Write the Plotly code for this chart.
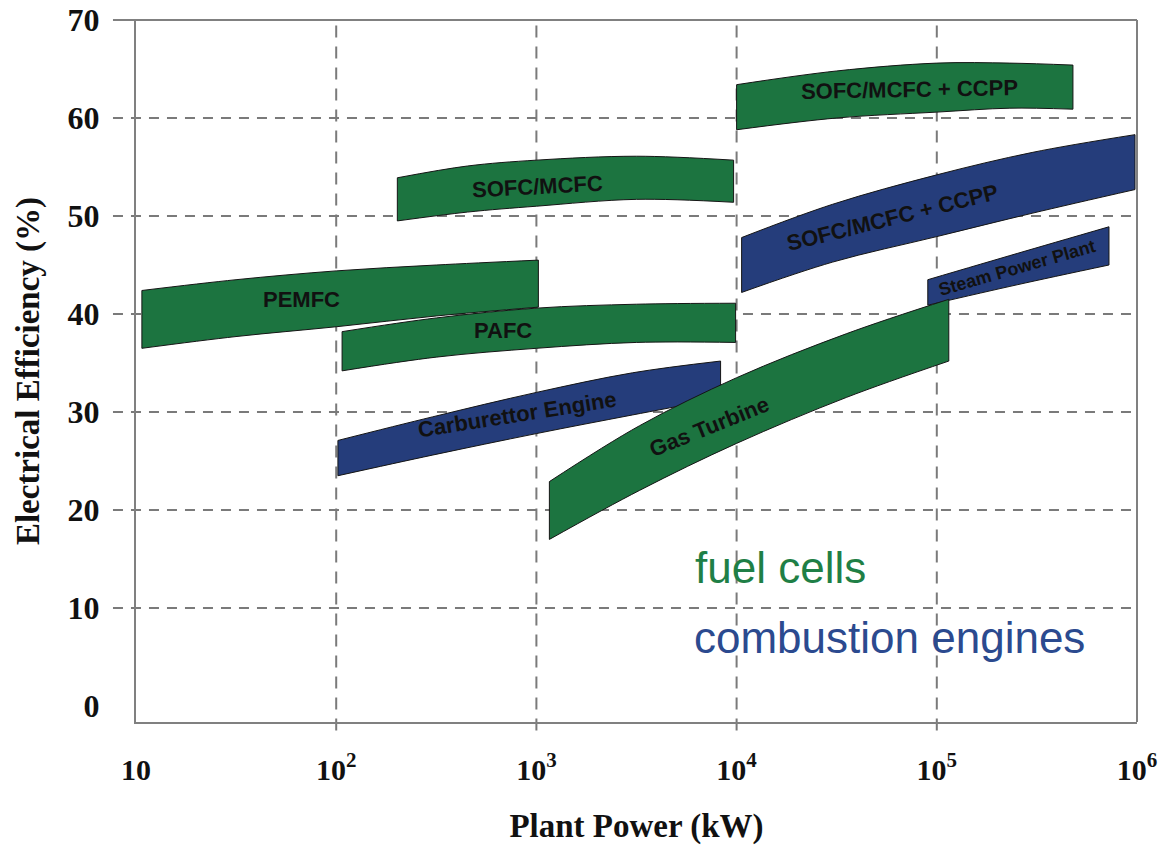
import math
import plotly.graph_objects as go

# ---------------- data ----------------
X_TICKS = [10, 100, 1000, 10000, 100000, 1000000]
X_TICK_TEXT = ["10", "10<sup>2</sup>", "10<sup>3</sup>", "10<sup>4</sup>", "10<sup>5</sup>", "10<sup>6</sup>"]
Y_TICKS = [0, 10, 20, 30, 40, 50, 60, 70]

# each band: plant power (kW) columns, upper and lower efficiency (%) edges
PEMFC_X = [10.7, 31.6, 100, 316, 1023]
PEMFC_TOP = [42.4, 43.5, 44.4, 45.0, 45.5]
PEMFC_BOT = [36.5, 37.7, 38.7, 39.8, 40.7]

PAFC_X = [107, 316, 1000, 3162, 9886]
PAFC_TOP = [38.2, 39.6, 40.6, 41.0, 41.1]
PAFC_BOT = [34.2, 35.6, 36.5, 37.1, 37.1]

SOFC_X = [202, 452, 1000, 3162, 9661]
SOFC_TOP = [53.9, 55.1, 55.7, 56.1, 55.7]
SOFC_BOT = [49.5, 50.4, 51.0, 51.7, 51.4]

HYB_FC_X = [10000, 31623, 100000, 231739, 478630]
HYB_FC_TOP = [63.4, 64.8, 65.6, 65.6, 65.4]
HYB_FC_BOT = [58.8, 60.0, 60.6, 61.0, 60.9]

HYB_CE_X = [10593, 30200, 100000, 301995, 977237]
HYB_CE_TOP = [47.8, 51.2, 54.2, 56.5, 58.3]
HYB_CE_BOT = [42.2, 45.3, 47.9, 50.3, 52.7]

CARB_X = [102, 302, 1000, 3020, 8318]
CARB_TOP = [27.1, 29.5, 32.0, 34.0, 35.2]
CARB_BOT = [23.5, 25.6, 27.8, 29.7, 31.4]

STEAM_X = [90157, 254097, 724436]
STEAM_TOP = [43.5, 46.2, 48.9]
STEAM_BOT = [40.9, 43.0, 45.0]

GT_X = [1161, 3273, 10000, 35481, 114815]
GT_TOP = [22.9, 28.6, 33.5, 38.0, 41.5]
GT_BOT = [17.0, 22.0, 26.8, 31.5, 35.2]

# band labels: text, power (kW), efficiency (%), angle
LABEL_TEXT = ["PEMFC", "PAFC", "SOFC/MCFC", "SOFC/MCFC + CCPP", "SOFC/MCFC + CCPP",
              "Steam Power Plant", "Carburettor Engine", "Gas Turbine"]
LABEL_X = [66.8, 684, 1012, 73282, 60256, 251189, 803, 7328]
LABEL_Y = [41.5, 38.3, 53.0, 62.9, 49.8, 44.7, 29.7, 28.5]
LABEL_ANGLE = [0, 0, -3, -1, -14, -16, -9, -22]
LABEL_SIZE = [22, 22, 22, 22, 22, 18, 22, 22]

LEGEND_TEXT = ["fuel cells", "combustion engines"]
LEGEND_X = [16596, 58210]
LEGEND_Y = [14.1, 7.0]

# ---------------- style ----------------
GREEN = "#1c7440"
BLUE = "#253d7b"
GREEN_TXT = "#1f7f46"
BLUE_TXT = "#2b4a8f"
GRID = "#7a7a7a"
EDGE = "#151515"
Y_MIN, Y_MAX = -1.63, 70
X_MIN, X_MAX = 1, 6

bands = [
    (PEMFC_X, PEMFC_TOP, PEMFC_BOT, GREEN),
    (PAFC_X, PAFC_TOP, PAFC_BOT, GREEN),
    (SOFC_X, SOFC_TOP, SOFC_BOT, GREEN),
    (HYB_FC_X, HYB_FC_TOP, HYB_FC_BOT, GREEN),
    (HYB_CE_X, HYB_CE_TOP, HYB_CE_BOT, BLUE),
    (CARB_X, CARB_TOP, CARB_BOT, BLUE),
    (STEAM_X, STEAM_TOP, STEAM_BOT, BLUE),
    (GT_X, GT_TOP, GT_BOT, GREEN),
]

fig = go.Figure()
for xs, top, bot, col in bands:
    fig.add_trace(go.Scatter(x=xs, y=bot, mode="lines",
                             line=dict(color=EDGE, width=1, shape="spline", smoothing=1),
                             hoverinfo="skip", showlegend=False))
    fig.add_trace(go.Scatter(x=xs, y=top, mode="lines", fill="tonexty", fillcolor=col,
                             line=dict(color=EDGE, width=1, shape="spline", smoothing=1),
                             hoverinfo="skip", showlegend=False))
    fig.add_trace(go.Scatter(x=[xs[0], xs[0], None, xs[-1], xs[-1]],
                             y=[bot[0], top[0], None, bot[-1], top[-1]], mode="lines",
                             line=dict(color=EDGE, width=1),
                             hoverinfo="skip", showlegend=False))

def ypaper(v):
    return (v - Y_MIN) / (Y_MAX - Y_MIN)

def xpaper(v):
    return (math.log10(v) - X_MIN) / (X_MAX - X_MIN)

shapes = []
for v in Y_TICKS[1:-1]:
    shapes.append(dict(type="line", xref="paper", yref="paper", x0=-0.023, x1=1,
                       y0=ypaper(v), y1=ypaper(v), layer="below",
                       line=dict(color=GRID, width=2, dash="10px,8px")))
for v in X_TICKS[1:-1]:
    shapes.append(dict(type="line", xref="paper", yref="paper", x0=xpaper(v), x1=xpaper(v),
                       y0=-0.012, y1=1, layer="below",
                       line=dict(color=GRID, width=2, dash="12px,9px")))
# top border (70 line) and right border
shapes.append(dict(type="line", xref="paper", yref="paper", x0=-0.023, x1=1, y0=1, y1=1,
                   layer="below", line=dict(color="#808080", width=2)))
shapes.append(dict(type="line", xref="paper", yref="paper", x0=1, x1=1, y0=0, y1=1,
                   layer="below", line=dict(color="#808080", width=2)))

annotations = []
for t, x, y, a, s in zip(LABEL_TEXT, LABEL_X, LABEL_Y, LABEL_ANGLE, LABEL_SIZE):
    annotations.append(dict(x=math.log10(x), y=y, xref="x", yref="y", text=t, showarrow=False,
                            textangle=a, xanchor="center", yanchor="middle",
                            font=dict(family="Liberation Sans", size=s, color="#111111", weight="bold")))
for t, x, y, c in zip(LEGEND_TEXT, LEGEND_X, LEGEND_Y, [GREEN_TXT, BLUE_TXT]):
    annotations.append(dict(x=math.log10(x), y=y, xref="x", yref="y", text=t, showarrow=False,
                            xanchor="center", yanchor="middle",
                            font=dict(family="Liberation Sans", size=44, color=c)))

fig.update_layout(
    width=1166, height=845,
    margin=dict(l=136, r=29, t=20, b=123),
    paper_bgcolor="white", plot_bgcolor="white",
    shapes=shapes, annotations=annotations,
    xaxis=dict(type="log", range=[X_MIN, X_MAX], tickvals=X_TICKS, ticktext=X_TICK_TEXT,
               automargin=False,
               showgrid=False, zeroline=False, showline=True, linecolor="#808080", linewidth=2,
               ticks="", ticklabelstandoff=20,
               tickfont=dict(family="Liberation Serif", size=30, color="#111111", weight="bold"),
               title=dict(text="Plant Power (kW)", standoff=30,
                          font=dict(family="Liberation Serif", size=33, color="#111111", weight="bold"))),
    yaxis=dict(range=[Y_MIN, Y_MAX], tickvals=Y_TICKS, showgrid=False, zeroline=False,
               automargin=False,
               showline=True, linecolor="#808080", linewidth=2, ticks="", ticklabelstandoff=28,
               tickfont=dict(family="Liberation Serif", size=32, color="#111111", weight="bold"),
               title=dict(text="Electrical Efficiency (%)", standoff=18,
                          font=dict(family="Liberation Serif", size=33, color="#111111", weight="bold"))),
)

fig.write_html("out.html", config={"displayModeBar": False},
               post_script="document.body.style.margin='0';")
